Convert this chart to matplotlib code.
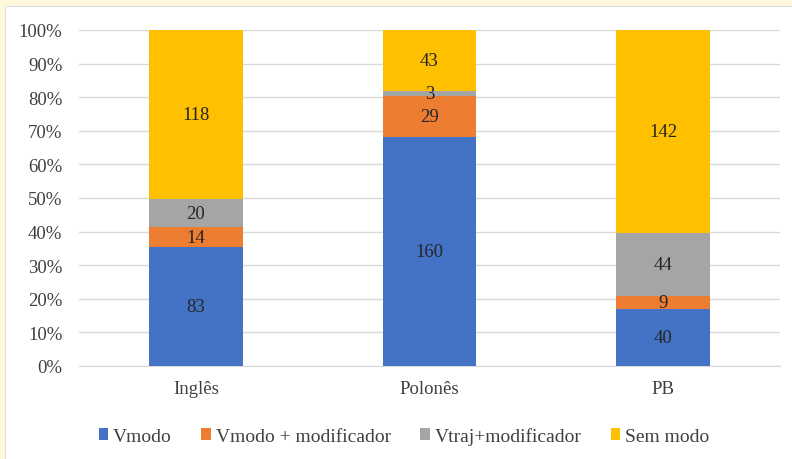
import matplotlib
matplotlib.use("Agg")
from matplotlib import pyplot as plt
from matplotlib.font_manager import FontProperties
import numpy as np

# Data
categories = ["Inglês", "Polonês", "PB"]
series_names = ["Vmodo", "Vmodo + modificador", "Vtraj+modificador", "Sem modo"]
vmodo = [83, 160, 40]
vmodo_mod = [14, 29, 9]
vtraj_mod = [20, 3, 44]
sem_modo = [118, 43, 142]
colors = ["#4472C4", "#ED7D31", "#A5A5A5", "#FFC000"]

plt.rcParams["font.family"] = ["Liberation Serif", "DejaVu Serif"]

fig = plt.figure(figsize=(7.92, 4.60), dpi=100, facecolor="#FFF8DC")
# white chart area with cream margins on left and top
fig.patches.append(plt.Rectangle((5 / 792, -0.01), 1, 1 - 7 / 460 + 0.01,
                                 transform=fig.transFigure,
                                 facecolor="white", edgecolor="#E0E0E0",
                                 lw=0.8, zorder=-5))
ax = fig.add_axes([79 / 792, 1 - 367 / 460, (780 - 79) / 792, (367 - 31) / 460])

data = np.array([vmodo, vmodo_mod, vtraj_mod, sem_modo], dtype=float)
totals = data.sum(axis=0)
pct = data / totals * 100
x = np.arange(len(categories))
bottom = np.zeros(len(categories))
for i, name in enumerate(series_names):
    ax.bar(x, pct[i], 0.4, bottom=bottom, color=colors[i], label=name, zorder=3)
    for j in range(len(categories)):
        ax.text(x[j], bottom[j] + pct[i][j] / 2, str(int(data[i][j])),
                ha="center", va="center", fontsize=13.5, color="#262626", zorder=4)
    bottom += pct[i]

ax.set_xlim(-0.5, len(categories) - 0.5)
ax.set_ylim(0, 100)
ax.set_yticks(range(0, 101, 10))
ax.set_yticklabels([f"{v}%" for v in range(0, 101, 10)])
ax.set_xticks(x)
ax.set_xticklabels(categories)
ax.tick_params(axis="both", length=0, labelsize=13.5, colors="#404040")
ax.tick_params(axis="x", pad=10)
ax.tick_params(axis="y", pad=12)
ax.grid(axis="y", color="#D9D9D9", linewidth=1, zorder=0)
for s in ["top", "right", "left"]:
    ax.spines[s].set_visible(False)
ax.spines["bottom"].set_color("#D9D9D9")
ax.set_facecolor("none")

fig.legend(loc="center", bbox_to_anchor=(0.51, 1 - 437 / 460), ncol=4,
           frameon=False, prop=FontProperties(family="Liberation Serif", size=14),
           handlelength=0.5, handleheight=0.5,
           handletextpad=0.25, columnspacing=1.5, labelcolor="#404040")

fig.savefig("out.png", dpi=100, facecolor=fig.get_facecolor())
